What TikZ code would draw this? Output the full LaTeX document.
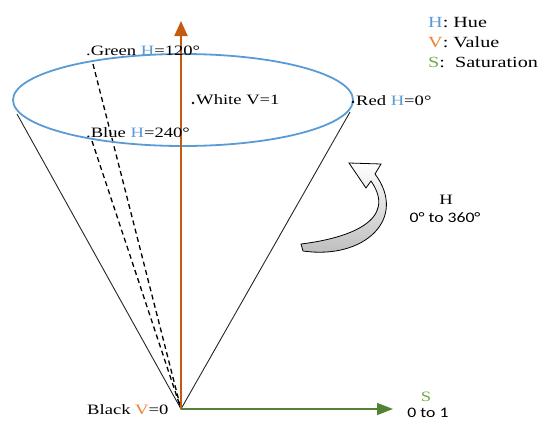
\documentclass[tikz,border=0pt]{standalone}
\usepackage{fontspec}
\setmainfont{Liberation Serif}[FakeStretch=1.3]
\newfontfamily\calfnt{Carlito}[FakeStretch=1.22]
\usetikzlibrary{arrows.meta}
\definecolor{hblue}{HTML}{5B9BD5}
\definecolor{vorange}{HTML}{ED7D31}
\definecolor{sgreen}{HTML}{70AD47}
\definecolor{axorange}{HTML}{C55A11}
\definecolor{axgreen}{HTML}{548235}
\begin{document}
\begin{tikzpicture}[x=1pt,y=-1pt,
  lbl/.style={inner sep=0pt, anchor=west, font=\fontsize{14.3}{16}\selectfont},
  leg/.style={inner sep=0pt, anchor=west, font=\fontsize{15.5}{17}\selectfont},
  sans/.style={inner sep=0pt, font=\calfnt\fontsize{14.5}{16}\selectfont},
  ptdot/.style={circle, fill=black, inner sep=0pt, minimum size=2.6pt},
  dsh/.style={line width=1.3, dash pattern=on 5pt off 3.5pt}]
\useasboundingbox (0,0) rectangle (544,421);
\coordinate (O) at (181,409);
\coordinate (Vtop) at (181,21);
\coordinate (Stip) at (393,409);
\coordinate (L) at (17,114);
\coordinate (R) at (350,112);
\coordinate (G) at (93,64);
\coordinate (B) at (92,141);
% cone
\draw[black!85, line width=0.9] (L) -- (O) -- (R);
\draw[dsh] (G) -- (O);
\draw[dsh] (B) -- (O);
% rim
\draw[hblue, line width=1.8] (183,100) ellipse [x radius=170, y radius=46];
% axes
\draw[axorange, line width=2, -{Triangle[width=13pt,length=15pt]}] (O) -- (Vtop);
\draw[axgreen, line width=1.5, -{Triangle[width=12pt,length=16pt]}] (O) -- (Stip);
% labels
\node[lbl] (green) at (86,51) {.Green \textcolor{hblue}{H}=120°};
\node[ptdot] (wdot) at (193,103) {};
\node[lbl] (white) at (196,100) {White V=1};
\node[ptdot] (rdot) at (353,102) {};
\node[lbl] (red) at (356,101) {Red \textcolor{hblue}{H}=0°};
\node[lbl] (blue) at (86,133) {.Blue \textcolor{hblue}{H}=240°};
\node[lbl] (black) at (87,410) {Black \textcolor{vorange}{V}=0};
\node[inner sep=0pt, font=\fontsize{14.3}{16}\selectfont, text=sgreen] (S) at (426,397) {S};
\node[sans] (s01) at (428,413) {0 to 1};
\node[inner sep=0pt, font=\fontsize{14.3}{16}\selectfont] (Hh) at (446,200) {H};
\node[sans] (h360) at (445,218) {0° to 360°};
% legend
\node[leg] (l1) at (428,23) {\textcolor{hblue}{H}: Hue};
\node[leg] (l2) at (428,42) {\textcolor{vorange}{V}: Value};
\node[leg] (l3) at (428,62) {\textcolor{sgreen}{S}:\ \ Saturation};
% curved hue arrow
\draw[line width=0.8, top color=white, bottom color=gray!55]
  (301,244) .. controls (350,238) and (398,220) .. (371,181)
  -- (366,188) -- (349,163) -- (381,164) -- (375,174)
  .. controls (408,218) and (365,260) .. (303,251) -- cycle;
\end{tikzpicture}
\end{document}
